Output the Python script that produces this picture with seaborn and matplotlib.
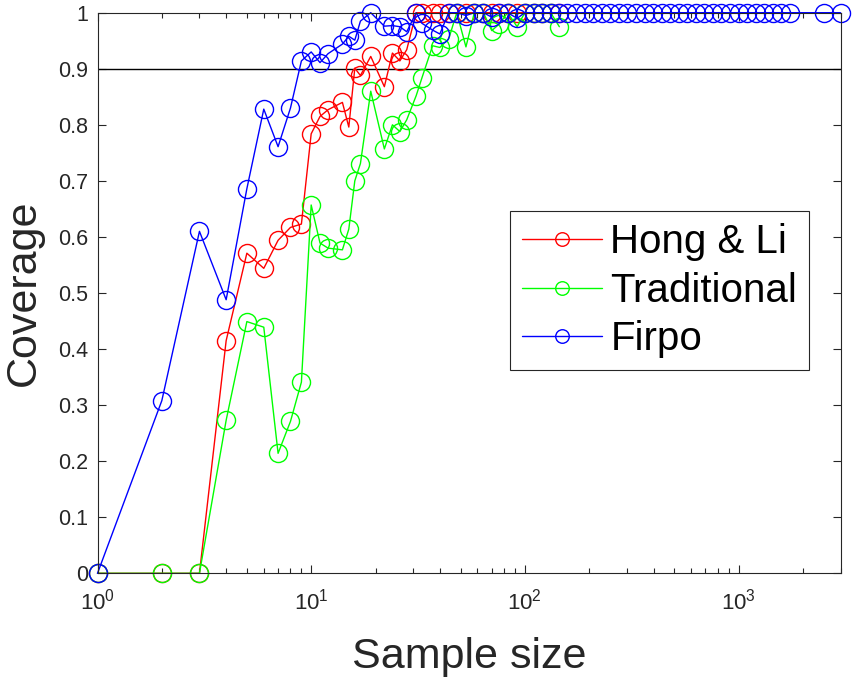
import pandas as pd
import matplotlib
matplotlib.use('Agg')
import matplotlib.pyplot as plt
import matplotlib.ticker as mticker
import seaborn as sns

# sample sizes used by Hong & Li and Traditional
sample_sizes = [1, 2, 3, 4, 5, 6, 7, 8, 9, 10, 11, 12, 14, 15, 16, 17, 19, 22, 24, 26,
                28, 31, 33, 37, 40, 44, 48, 53, 58, 64, 70, 76, 83, 92, 100, 110, 120, 132, 145]

hong_li = [0, 0, 0, 0.415, 0.571, 0.544, 0.594, 0.617, 0.623, 0.784, 0.815, 0.827, 0.840, 0.796,
           0.901, 0.888, 0.922, 0.868, 0.928, 0.914, 0.934, 1.0, 1.0, 1.0, 1.0, 1.0, 1.0, 1.0,
           1.0, 1.0, 1.0, 1.0, 1.0, 1.0, 1.0, 1.0, 1.0, 1.0, 1.0]

traditional = [0, 0, 0, 0.273, 0.449, 0.439, 0.214, 0.271, 0.341, 0.657, 0.589, 0.580, 0.577, 0.614,
               0.700, 0.731, 0.860, 0.757, 0.800, 0.788, 0.809, 0.852, 0.884, 0.941, 0.938, 0.953,
               1.0, 0.939, 1.0, 1.0, 0.968, 0.980, 1.0, 0.975, 1.0, 1.0, 1.0, 1.0, 0.975]

# Firpo goes further out
firpo_sizes = [1, 2, 3, 4, 5, 6, 7, 8, 9, 10, 11, 12, 14, 15, 16, 17, 19, 22, 24, 26,
               28, 31, 33, 37, 40, 44, 48, 53, 58, 64, 70, 76, 83, 92, 100, 110, 120, 132, 145,
               158, 174, 191, 209, 229, 251, 275, 302, 331, 363, 398, 437, 479, 525, 575, 631,
               692, 759, 832, 912, 1000, 1096, 1202, 1318, 1445, 1585, 1738, 2500, 3000]

firpo = [0, 0.308, 0.610, 0.488, 0.686, 0.828, 0.761, 0.830, 0.914, 0.930, 0.911, 0.927, 0.944,
         0.958, 0.951, 0.985, 1.0, 0.976, 0.977, 0.975, 0.966, 1.0, 0.981, 0.969, 0.962, 1.0,
         1.0, 0.995, 1.0, 1.0, 0.992, 1.0, 1.0, 0.990, 1.0,
         1.0, 1.0, 1.0, 1.0, 1.0, 1.0, 1.0, 1.0, 1.0, 1.0, 1.0, 1.0, 1.0, 1.0, 1.0, 1.0,
         1.0, 1.0, 1.0, 1.0, 1.0, 1.0, 1.0, 1.0, 1.0, 1.0, 1.0, 1.0, 1.0, 1.0, 1.0, 1.0, 1.0]

y_ticks = [0, 0.1, 0.2, 0.3, 0.4, 0.5, 0.6, 0.7, 0.8, 0.9, 1]
y_labels = ['0', '0.1', '0.2', '0.3', '0.4', '0.5', '0.6', '0.7', '0.8', '0.9', '1']

sns.set_style('ticks')
plt.rcParams['font.family'] = ['Liberation Sans', 'DejaVu Sans']
plt.rcParams['axes.formatter.use_mathtext'] = True
gray = '#262626'

fig = plt.figure(figsize=(8.61, 6.86), dpi=100)
ax = fig.add_axes([97.5 / 861, 1 - 573.3 / 686, 743 / 861, 560.6 / 686])

style = dict(marker='o', markersize=13, markerfacecolor='none', markeredgewidth=1.0,
             linewidth=1.0, estimator=None, sort=False, ax=ax, clip_on=False)
sns.lineplot(x=sample_sizes, y=hong_li, color='#ff0000', markeredgecolor='#ff0000',
             label='Hong & Li', **style)
sns.lineplot(x=sample_sizes, y=traditional, color='#00ff00', markeredgecolor='#00ff00',
             label='Traditional', **style)
sns.lineplot(x=firpo_sizes, y=firpo, color='#0000ff', markeredgecolor='#0000ff',
             label='Firpo', **style)

ax.axhline(0.9, color='black', linewidth=1.0, zorder=1)

ax.set_xscale('log')
ax.set_xlim(1, 3000)
ax.set_ylim(0, 1)
ax.set_yticks(y_ticks)
ax.set_yticklabels(y_labels)
ax.xaxis.set_minor_formatter(mticker.NullFormatter())

ax.tick_params(which='both', direction='in', top=True, right=True, colors=gray,
               labelsize=15.5, width=0.8)
ax.tick_params(which='major', length=6, pad=7)
ax.tick_params(which='minor', length=3.5)
ax.tick_params(axis='x', which='major', pad=11, labelsize=16)
for s in ax.spines.values():
    s.set_color(gray)
    s.set_linewidth(0.8)

ax.set_xlabel('Sample size', fontsize=31, color=gray, labelpad=16)
ax.set_ylabel('Coverage', fontsize=31, color=gray, labelpad=10)

leg = ax.legend(loc='upper right', bbox_to_anchor=(0.958, 0.646), fontsize=29,
                frameon=True, fancybox=False, edgecolor=gray, framealpha=1,
                handlelength=2.0, handletextpad=0.2, labelspacing=0.26,
                borderpad=0.3, borderaxespad=0, markerscale=0.75)
leg.get_frame().set_linewidth(0.8)
for t in leg.get_texts():
    t.set_color('black')

fig.savefig('out.png', dpi=100)
